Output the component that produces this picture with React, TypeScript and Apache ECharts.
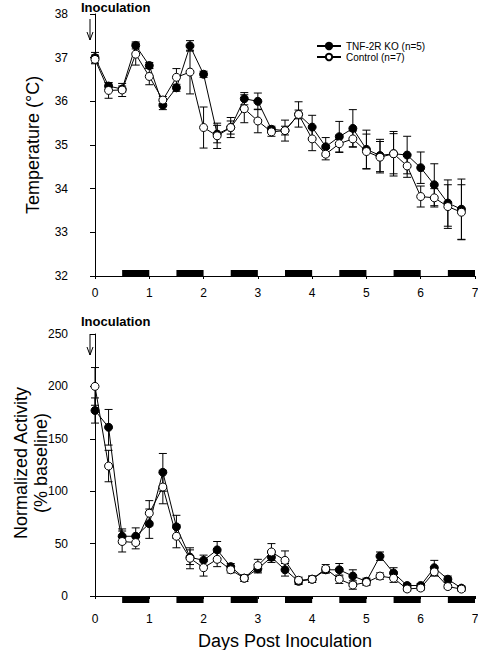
import React, { useEffect, useRef } from "react";
import * as echarts from "echarts";

const days = [0, 0.25, 0.5, 0.75, 1, 1.25, 1.5, 1.75, 2, 2.25, 2.5, 2.75, 3, 3.25, 3.5, 3.75, 4, 4.25, 4.5, 4.75, 5, 5.25, 5.5, 5.75, 6, 6.25, 6.5, 6.75];

const tempKO = [37.0, 36.35, 36.28, 37.28, 36.82, 35.91, 36.31, 37.27, 36.62, 35.25, 35.4, 36.06, 36.0, 35.36, 35.33, 35.7, 35.41, 34.96, 35.19, 35.38, 34.9, 34.76, 34.8, 34.77, 34.48, 34.09, 33.67, 33.53];
const tempKOErr = [0.12, 0.07, 0.07, 0.08, 0.07, 0.1, 0.08, 0.12, 0.07, 0.2, 0.15, 0.14, 0.19, 0.07, 0.1, 0.1, 0.27, 0.21, 0.35, 0.43, 0.44, 0.37, 0.51, 0.43, 0.36, 0.48, 0.53, 0.69];
const tempCtrl = [36.96, 36.25, 36.26, 37.08, 36.57, 36.03, 36.55, 36.67, 35.4, 35.21, 35.4, 35.83, 35.55, 35.3, 35.33, 35.7, 35.14, 34.79, 35.03, 35.14, 34.85, 34.72, 34.8, 34.52, 33.82, 33.79, 33.59, 33.46];
const tempCtrlErr = [0.1, 0.18, 0.15, 0.25, 0.19, 0.08, 0.2, 0.5, 0.47, 0.29, 0.23, 0.32, 0.27, 0.1, 0.24, 0.29, 0.27, 0.13, 0.2, 0.18, 0.4, 0.36, 0.46, 0.26, 0.24, 0.21, 0.5, 0.63];

const actKO = [177, 161, 57, 57, 69, 118, 66, 37, 34, 44, 28, 17, 26, 37, 25, 14, 16, 25, 25, 19, 14, 38, 22, 10, 10, 27, 16, 7.5];
const actKOErr = [12, 17, 7, 8, 14, 18, 11, 7, 5, 8, 3, 3, 4, 5, 6, 3, 3, 3, 6, 6, 3, 4, 5, 2, 2, 7, 3, 2];
const actCtrl = [200, 124, 52, 51, 79, 104, 57, 36, 27, 35, 25, 17, 29, 42, 34, 15, 16, 26, 16, 10.5, 13, 19, 17, 6.7, 7.6, 23, 9, 6.6];
const actCtrlErr = [18, 15, 10, 6, 12, 16, 11, 10, 8, 7, 3, 3, 6, 8, 9, 3, 3, 4, 4, 4, 3, 3, 4, 2, 2, 4, 2, 2];

const darkStarts = [0.5, 1.5, 2.5, 3.5, 4.5, 5.5, 6.5];
const darkLength = 0.5;

const seriesNames = ["TNF-2R KO (n=5)", "Control (n=7)"];
const annotation = "Inoculation";
const yTitleTop = "Temperature (°C)";
const yTitleBottomLines = ["Normalized Activity", "(% baseline)"];
const xTitle = "Days Post Inoculation";

const FONT = "Liberation Sans";

function errorSeries(vals: number[], errs: number[], idx: number) {
  return {
    type: "custom",
    xAxisIndex: idx,
    yAxisIndex: idx,
    clip: false,
    silent: true,
    z: 1,
    renderItem: (_p: any, api: any) => {
      const x = api.value(0);
      const y = api.value(1);
      const e = api.value(2);
      const t = api.coord([x, y + e]);
      const b = api.coord([x, y - e]);
      const w = 4;
      const st = { stroke: "#000", lineWidth: 1 };
      return {
        type: "group",
        children: [
          { type: "line", shape: { x1: t[0], y1: t[1], x2: b[0], y2: b[1] }, style: st },
          { type: "line", shape: { x1: t[0] - w, y1: t[1], x2: t[0] + w, y2: t[1] }, style: st },
          { type: "line", shape: { x1: b[0] - w, y1: b[1], x2: b[0] + w, y2: b[1] }, style: st },
        ],
      };
    },
    data: days.map((d, i) => [d, vals[i], errs[i]]),
  };
}

function darkSeries(idx: number, yMin: number, pxOffset: number) {
  return {
    type: "custom",
    xAxisIndex: idx,
    yAxisIndex: idx,
    clip: false,
    silent: true,
    z: 1,
    renderItem: (_p: any, api: any) => {
      const s = api.value(0);
      const p0 = api.coord([s, yMin]);
      const p1 = api.coord([s + darkLength, yMin]);
      return {
        type: "rect",
        shape: { x: p0[0], y: p0[1] + pxOffset - 6, width: p1[0] - p0[0], height: 6 },
        style: { fill: "#000" },
      };
    },
    data: darkStarts.map((s) => [s]),
  };
}

function lineSeries(name: string, vals: number[], idx: number, filled: boolean) {
  return {
    type: "line",
    name,
    xAxisIndex: idx,
    yAxisIndex: idx,
    data: days.map((d, i) => [d, vals[i]]),
    symbol: "circle",
    symbolSize: 8,
    showSymbol: true,
    clip: false,
    z: filled ? 3 : 4,
    lineStyle: { color: "#000", width: 1 },
    itemStyle: { color: filled ? "#000" : "#fff", borderColor: "#000", borderWidth: 1 },
  };
}

function arrow(x: number, y1: number, y2: number) {
  return [
    { type: "line", shape: { x1: x, y1, x2: x, y2 }, style: { stroke: "#000", lineWidth: 1 } },
    { type: "polyline", shape: { points: [[x - 3, y2 - 8], [x, y2], [x + 3, y2 - 8]] }, style: { stroke: "#000", lineWidth: 1, fill: "none" } },
  ];
}

function vText(text: string, x: number, y: number) {
  return {
    type: "text",
    x,
    y,
    rotation: Math.PI / 2,
    style: { text, fontSize: 18, fontFamily: FONT, fill: "#000", align: "center", verticalAlign: "middle" },
  };
}

export default function App() {
  const ref = useRef<HTMLDivElement>(null);
  useEffect(() => {
    document.body.style.margin = "0";
    const chart = echarts.init(ref.current!, null, { renderer: "svg" });
    const axisLine = { show: true, lineStyle: { color: "#000", width: 1 } };
    const axisTick = { show: true, length: 4, lineStyle: { color: "#000", width: 1 } };
    const label = { color: "#000", fontSize: 12, fontFamily: FONT };
    const nameStyle = { color: "#000", fontSize: 18, fontFamily: FONT };
    chart.setOption({
      animation: false,
      grid: [
        { left: 95, top: 14, width: 380, height: 262, containLabel: false, outerBoundsMode: "none" },
        { left: 95, top: 334, width: 380, height: 262, containLabel: false, outerBoundsMode: "none" },
      ],
      legend: {
        data: seriesNames,
        orient: "vertical",
        left: 311,
        top: 36,
        itemWidth: 24,
        itemHeight: 8,
        itemGap: 1,
        textStyle: { color: "#000", fontSize: 10, fontFamily: FONT },
      },
      xAxis: [
        {
          gridIndex: 0, type: "value", min: 0, max: 7, interval: 1,
          axisLine, axisTick: { ...axisTick, length: 3 }, splitLine: { show: false },
          axisLabel: { ...label, margin: 11 },
        },
        {
          gridIndex: 1, type: "value", min: 0, max: 7, interval: 1, offset: 7,
          axisLine, axisTick: { ...axisTick, length: 3 }, splitLine: { show: false },
          axisLabel: { ...label, margin: 10 },
          name: xTitle, nameLocation: "middle", nameGap: 29, nameTextStyle: nameStyle,
        },
      ],
      yAxis: [
        {
          gridIndex: 0, type: "value", min: 32, max: 38, interval: 1, offset: 18,
          axisLine, axisTick: { ...axisTick, length: 5 }, splitLine: { show: false },
          axisLabel: { ...label, margin: 9 },
          name: yTitleTop, nameLocation: "middle", nameGap: 35, nameTextStyle: nameStyle,
        },
        {
          gridIndex: 1, type: "value", min: 0, max: 250, interval: 50, offset: 18,
          axisLine, axisTick: { ...axisTick, length: 5 }, splitLine: { show: false },
          axisLabel: { ...label, margin: 9 },
        },
      ],
      series: [
        darkSeries(0, 32, 0),
        darkSeries(1, 0, 7),
        errorSeries(tempKO, tempKOErr, 0),
        errorSeries(tempCtrl, tempCtrlErr, 0),
        errorSeries(actKO, actKOErr, 1),
        errorSeries(actCtrl, actCtrlErr, 1),
        lineSeries(seriesNames[0], tempKO, 0, true),
        lineSeries(seriesNames[1], tempCtrl, 0, false),
        lineSeries(seriesNames[0], actKO, 1, true),
        lineSeries(seriesNames[1], actCtrl, 1, false),
      ],
      graphic: [
        { type: "text", left: 81, top: 1, style: { text: annotation, fontSize: 13, fontWeight: "bold", fontFamily: FONT, fill: "#000" } },
        { type: "text", left: 81, top: 315, style: { text: annotation, fontSize: 13, fontWeight: "bold", fontFamily: FONT, fill: "#000" } },
        ...arrow(90, 19, 40),
        ...arrow(90, 334, 355),
        vText(yTitleBottomLines[0], 21, 463),
        vText(yTitleBottomLines[1], 41, 463),
      ],
    });
    return () => chart.dispose();
  }, []);
  return <div ref={ref} style={{ width: 478, height: 650 }} />;
}
